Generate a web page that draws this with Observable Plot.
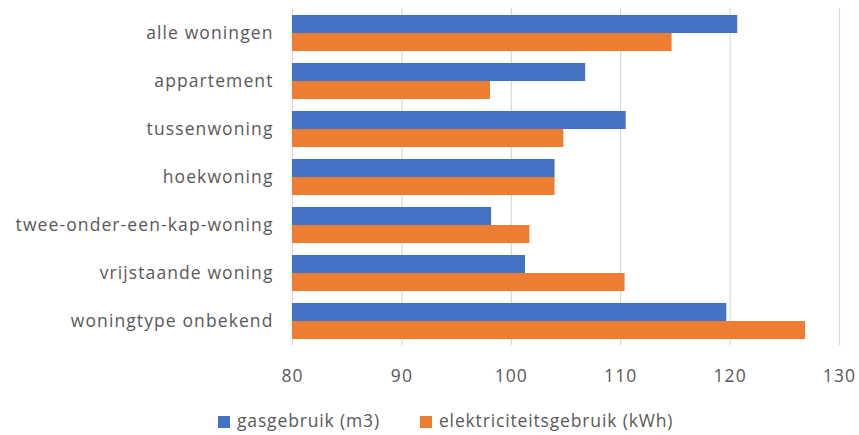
<!DOCTYPE html>
<html>
<head>
<meta charset="utf-8">
<script src="https://cdn.jsdelivr.net/npm/d3@7"></script>
<script src="https://cdn.jsdelivr.net/npm/@observablehq/plot@0.6"></script>
<style>
  body { margin: 0; background: #fff; font-family: "Open Sans", sans-serif; }
  #chart svg { display: block; }
  .legend { display: flex; gap: 40px; padding-left: 218px; margin-top: 8px; font-size: 17.5px; color: #595959; align-items: center; letter-spacing: 0.85px; }
  .legend span.sw { display: inline-block; width: 12px; height: 12px; margin-right: 7px; vertical-align: -1px; }
</style>
</head>
<body>
<div id="chart"></div>
<div class="legend">
  <div><span class="sw" style="background:#4472C4"></span>gasgebruik (m3)</div>
  <div><span class="sw" style="background:#ED7D31"></span>elektriciteitsgebruik (kWh)</div>
</div>
<script>
const categories = ["alle woningen", "appartement", "tussenwoning", "hoekwoning", "twee-onder-een-kap-woning", "vrijstaande woning", "woningtype onbekend"];
const gasValues = [120.7, 106.8, 110.5, 104.0, 98.2, 101.3, 119.7];
const elecValues = [114.7, 98.1, 104.8, 104.0, 101.7, 110.4, 126.9];
const xTicks = [80, 90, 100, 110, 120, 130];

const gas = categories.map((c, i) => ({cat: c, v: gasValues[i]}));
const elec = categories.map((c, i) => ({cat: c, v: elecValues[i]}));

const chart = Plot.plot({
  width: 859,
  height: 400,
  marginLeft: 292,
  marginRight: 20,
  marginTop: 8,
  marginBottom: 55,
  style: {fontFamily: "Open Sans, sans-serif", fontSize: "17.5px", color: "#595959", letterSpacing: "1.1px"},
  x: {domain: [80, 130], ticks: xTicks, label: null, tickSize: 0, tickPadding: 24},
  y: {domain: categories, paddingInner: 0.25, paddingOuter: 0.125, label: null, tickSize: 0, tickPadding: 19},
  marks: [
    Plot.ruleX(xTicks, {stroke: "#d9d9d9", strokeWidth: 1.2}),
    Plot.barX(gas, {x1: 80, x2: "v", y: "cat", fill: "#4472C4", insetBottom: 18}),
    Plot.barX(elec, {x1: 80, x2: "v", y: "cat", fill: "#ED7D31", insetTop: 18})
  ]
});
document.getElementById("chart").appendChild(chart);
</script>
</body>
</html>
